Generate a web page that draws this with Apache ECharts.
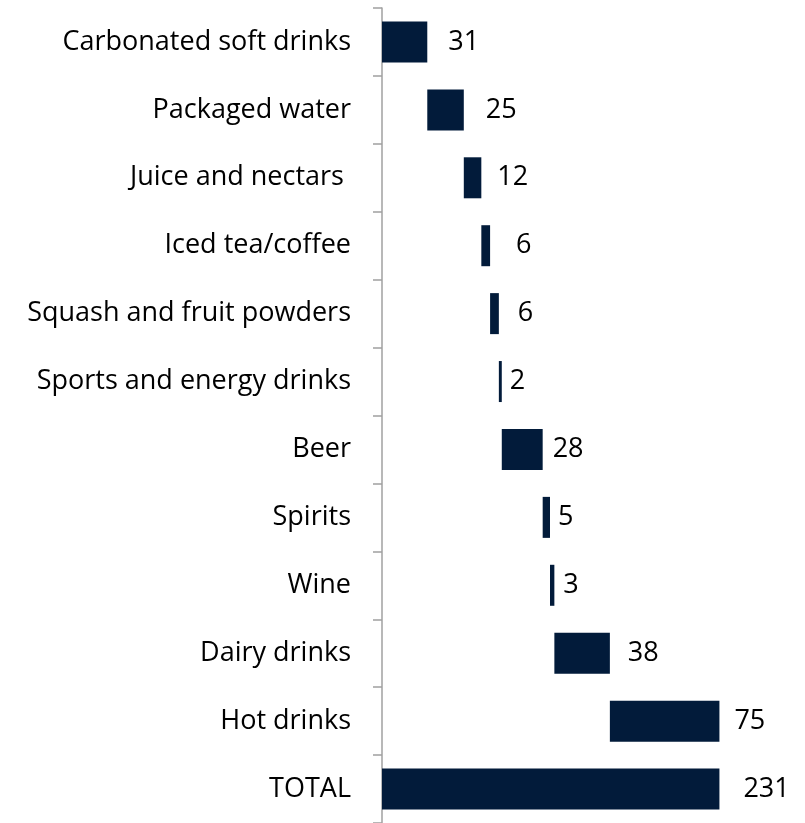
<!DOCTYPE html>
<html>
<head>
<meta charset="utf-8">
<script src="https://cdn.jsdelivr.net/npm/echarts@6/dist/echarts.min.js"></script>
<style>
  html, body { margin: 0; padding: 0; background: #fff; }
  #chart { width: 805px; height: 823px; }
</style>
</head>
<body>
<div id="chart"></div>
<script>
// categories, top to bottom
const categories = [
    'Carbonated soft drinks', 'Packaged water', 'Juice and nectars ', 'Iced tea/coffee',
    'Squash and fruit powders', 'Sports and energy drinks', 'Beer', 'Spirits',
    'Wine', 'Dairy drinks', 'Hot drinks', 'TOTAL'
];
// increments, the last one is the total
const values = [31, 25, 12, 6, 6, 2, 28, 5, 3, 38, 75, 231];

// gap between bar end and its label (px), as in the picture
const labelGap = [21, 22, 16, 26, 19, 8, 10, 8, 9, 18, 15, 24];

// invisible base of every floating bar = running sum before it
let bases = [];
let run = 0;
values.forEach((v, i) => {
    if (i == values.length - 1) {
        bases.push(0);
    } else {
        bases.push(run);
        run += v;
    }
});

const dom = document.getElementById('chart');
const chart = echarts.init(dom, null, { renderer: 'canvas' });

const option = {
    animation: false,
    grid: {
        left: 382,
        right: 14,
        top: 8,
        height: 820
    },
    xAxis: {
        type: 'value',
        min: 0,
        max: 280,
        show: false
    },
    yAxis: {
        type: 'category',
        inverse: true,
        data: categories,
        axisLine: { show: true, lineStyle: { color: '#a0a0a0', width: 1.5 } },
        axisTick: { show: true, inside: false, alignWithLabel: false, length: 9, lineStyle: { color: '#a0a0a0', width: 1.5 } },
        axisLabel: {
            margin: 31,
            fontFamily: 'Open Sans',
            fontSize: 27,
            color: '#000',
            padding: [4, 0, 0, 0]
        }
    },
    series: [
        {
            type: 'bar',
            stack: 'w',
            data: bases,
            itemStyle: { color: 'transparent' },
            silent: true,
            barWidth: 41
        },
        {
            type: 'bar',
            stack: 'w',
            barWidth: 41,
            data: values.map((v, i) => ({
                value: v,
                label: { distance: labelGap[i] }
            })),
            itemStyle: { color: '#021b3a' },
            label: {
                show: true,
                position: 'right',
                fontFamily: 'Open Sans',
                fontSize: 27,
                color: '#000',
                padding: [5, 0, 0, 0]
            }
        }
    ]
};

chart.setOption(option);
window.addEventListener('resize', chart.resize);
</script>
</body>
</html>
